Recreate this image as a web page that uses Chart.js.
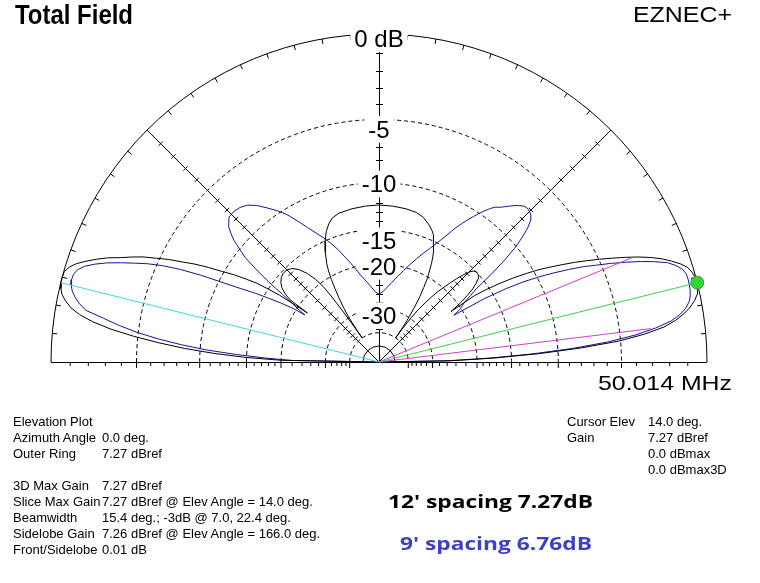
<!DOCTYPE html>
<html>
<head>
<meta charset="utf-8">
<script src="https://cdn.jsdelivr.net/npm/chart.js@4/dist/chart.umd.min.js"></script>
<style>
html,body{margin:0;padding:0;background:#fff;}
#wrap{position:relative;width:760px;height:583px;overflow:hidden;background:#fff;}
#c{position:absolute;left:0;top:0;}
.t{position:absolute;white-space:nowrap;font-family:"Liberation Sans",Arial,sans-serif;color:#000;transform-origin:0 0;line-height:1;}
.info{position:absolute;white-space:nowrap;font-family:"Liberation Sans",Arial,sans-serif;font-size:13px;line-height:16px;color:#000;}
</style>
</head>
<body>
<div id="wrap">
<canvas id="c" width="760" height="583"></canvas>
<div class="t fit" data-w="118" style="left:15px;top:1.5px;font-size:27px;font-weight:bold;">Total Field</div>
<div class="t fit" data-w="99" style="left:633px;top:4px;font-size:22px;">EZNEC+</div>
<div class="t fit" data-w="134" style="left:598px;top:372px;font-size:21px;">50.014 MHz</div>
<div class="info" id="infoL1" style="left:13px;top:413.5px;"></div>
<div class="info" id="infoL2" style="left:102px;top:413.5px;"></div>
<div class="info" id="infoR1" style="left:567px;top:413.5px;"></div>
<div class="info" id="infoR2" style="left:648px;top:413.5px;"></div>
<div class="t fit" data-w="205" style="left:388px;top:491.8px;font-size:18.6px;font-weight:bold;font-family:'Open Sans',sans-serif;">12' spacing 7.27dB</div>
<div class="t fit" data-w="192" style="left:400px;top:534px;font-size:18.6px;font-weight:bold;font-family:'Open Sans',sans-serif;color:#4040c4;">9' spacing 6.76dB</div>
</div>
<script>
// ---------- DATA (elevation angle in degrees, gain in dB relative to outer ring) ----------
const pattern12ft = [
 [0,-99],[1,-25],[2,-17.2],[3,-11.8],[4,-7.9],[5,-5.1],[6,-3.4],[7,-2.2],[8,-1.5],[9,-1.0],
 [10,-0.62],[11,-0.33],[12,-0.14],[13,-0.04],[14,0],[15,-0.03],[16,-0.12],[17,-0.26],[18,-0.55],[19,-0.95],
 [20,-1.4],[21,-1.95],[22,-2.6],[23,-3.35],[24,-4.15],[25,-4.95],[26,-5.8],[27,-6.65],[28,-7.6],[29,-8.55],
 [30,-9.5],[31,-10.7],[32,-12.0],[33,-13.5],[34,-15.3],[34.8,-17.2],[35,-21.8],[36,-19.5],[37,-18],[38,-16.8],
 [39,-16],[40,-15.4],[41,-15.1],[42,-15],[43,-15],[44,-15.2],[45,-15.7],[46,-16.5],[47,-17.5],[48,-18.6],
 [49,-19.8],[50,-21],[51,-22.5],[52,-24.3],[53,-26.5],[54,-29.5],[55,-35],[55.3,-40],[55.6,-34],[56,-31],
 [57,-27],[58,-24],[59,-22],[60,-20.2],[61,-19],[62,-17.8],[63,-16.8],[64,-16],[65,-15.4],[66,-14.8],
 [67,-14.3],[68,-13.9],[70,-13.4],[73,-12.8],[76,-12.5],[80,-12.35],[85,-12.25],[90,-12.2],[95,-12.25],[100,-12.35],
 [105,-12.5],[108,-12.8],[110,-13.3],[112,-14.0],[114,-15.0],[116,-16.3],[118,-17.9],[119,-19.0],[120,-20.5],[121,-22.3],
 [122,-24.3],[123,-26.7],[124,-29.5],[124.7,-35],[125,-40],[125.3,-30],[125.7,-25],[126,-22.8],[126.5,-20.7],[127.5,-19],
 [129,-17.5],[131,-16.3],[133,-15.6],[135,-15.3],[137,-15.25],[139,-15.4],[141,-15.8],[142.5,-16.3],[144,-17.2],[145,-18.3],
 [145.6,-22],[145.8,-19.5],[146.1,-16.7],[146.7,-14.8],[147.2,-13.45],[148,-12.3],[149,-10.9],[150,-9.85],[151,-8.6],[152,-7.5],
 [153,-6.6],[154,-5.6],[155,-4.8],[156,-3.95],[157,-3.3],[158,-2.7],[159,-2.0],[160,-1.45],[161,-0.95],[162,-0.5],
 [163,-0.2],[164,-0.03],[165,0],[166,-0.01],[167,-0.08],[168,-0.2],[169,-0.45],[170,-0.78],[171,-1.3],[172,-2.1],
 [173,-3.2],[174,-4.7],[175,-6.5],[176,-8.6],[177,-11.3],[178,-14.8],[179,-20],[180,-99]
];
const pattern9ft = [
 [0,-99],[1,-26],[2,-18],[3,-12.6],[4,-8.7],[5,-5.9],[6,-4.0],[7,-2.7],[8,-1.75],[9,-1.2],
 [10,-0.85],[11,-0.62],[12,-0.5],[13,-0.44],[14,-0.42],[15,-0.41],[16,-0.43],[17,-0.55],[18,-0.82],[19,-1.2],
 [20,-1.85],[21,-2.6],[22,-3.45],[23,-4.33],[24,-5.3],[25,-6.2],[26,-7.3],[27,-8.5],[28,-9.8],[29,-11.3],
 [30,-13.3],[31,-16.2],[32,-21.7],[33,-20.3],[34,-19.6],[35,-18.9],[36,-17.6],[37,-16.3],[38,-13.8],[39,-11.8],
 [40,-10.2],[41,-9.1],[42,-8.2],[43,-7.6],[44,-7.3],[45,-7.15],[46,-7.1],[47,-7.15],[48,-7.35],[49,-7.6],
 [50,-7.9],[51,-8.2],[52,-8.5],[53,-8.7],[54,-9.05],[55,-9.5],[56,-10.0],[57,-10.55],[58,-11.1],[59,-11.7],
 [60,-12.3],[61,-13.0],[62,-13.75],[63,-14.4],[64,-15.0],[65,-15.6],[66,-16.1],[67,-16.6],[68,-17.1],[70,-18.1],
 [72,-19.1],[75,-20.6],[78,-22.0],[81,-23.3],[84,-24.5],[87,-25.5],[90,-26.1],[93,-25.5],[96,-24.3],[99,-23.0],
 [102,-21.6],[104,-20.4],[106,-19.2],[108,-18.0],[110,-16.7],[112,-15.6],[114,-14.6],[116,-13.7],[118,-12.7],[120,-11.6],
 [122,-10.5],[124,-9.7],[126,-9.0],[128,-8.3],[130,-7.8],[132,-7.55],[134,-7.45],[136,-7.5],[138,-8.0],[139,-8.5],
 [140,-9.1],[141,-10.0],[142,-10.9],[143,-12.5],[144,-14.5],[145,-17.0],[146,-19],[147,-20.5],[147.6,-21.8],[148,-19.5],
 [149,-17.4],[150,-15.6],[151,-13.8],[152,-12.3],[153,-10.5],[154,-8.4],[155,-6.7],[156,-5.4],[157,-4.4],[158,-3.6],
 [159,-2.8],[160,-2.05],[161,-1.45],[162,-0.95],[163,-0.65],[164,-0.52],[165,-0.5],[166,-0.55],[167,-0.68],[168,-0.9],
 [169,-1.2],[170,-1.6],[171,-2.7],[172,-3.7],[173,-4.9],[174,-6.4],[175,-8.3],[176,-10.6],[177,-13.8],[178,-17.5],
 [179,-22],[180,-99]
];
const cursorMark = [14.0, 0.0];          // cursor elevation / dB
const sidelobeMark = [166.0, -0.01];     // sidelobe elevation / dB
const beamwidthMarks = [[7.0, -3], [22.4, -3]];
const ringDb = [0, -5, -10, -15, -20, -30, -40];
const ringLabels = ['0 dB', '-5', '-10', '-15', '-20', '-30'];
const tickDb = [-1,-2,-3,-4,-6,-7,-8,-9,-11,-12,-13,-14,-16,-17,-18,-19,-22,-24,-26,-28,-32,-34,-36,-38];
const spokeAngles = [45, 90, 135];
const infoLeftNames = ['Elevation Plot','Azimuth Angle','Outer Ring','','3D Max Gain','Slice Max Gain','Beamwidth','Sidelobe Gain','Front/Sidelobe'];
const infoLeftValues = ['','0.0 deg.','7.27 dBref','','7.27 dBref','7.27 dBref @ Elev Angle = 14.0 deg.','15.4 deg.; -3dB @ 7.0, 22.4 deg.','7.26 dBref @ Elev Angle = 166.0 deg.','0.01 dB'];
const infoRightNames = ['Cursor Elev','Gain','',''];
const infoRightValues = ['14.0 deg.','7.27 dBref','0.0 dBmax','0.0 dBmax3D'];

// ---------- text blocks ----------
function fillLines(id, arr){ const el=document.getElementById(id); el.innerHTML = arr.map(s => s===''?'&nbsp;':s.replace(/&/g,'&amp;')).join('<br>'); }
fillLines('infoL1', infoLeftNames); fillLines('infoL2', infoLeftValues);
fillLines('infoR1', infoRightNames); fillLines('infoR2', infoRightValues);
document.querySelectorAll('.fit').forEach(el => {
  const w = el.getBoundingClientRect().width; const tw = parseFloat(el.dataset.w);
  if (w > 0) el.style.transform = 'scaleX(' + (tw / w) + ')';
});

// ---------- ARRL-style log radial scale ----------
const K = 0.0604;
function rad(db){ return db <= -60 ? 0 : Math.exp(K * db); }
function toXY(deg, db){ const r = rad(db), a = deg * Math.PI / 180; return {x: r * Math.cos(a), y: r * Math.sin(a)}; }
const originPt = {x: 0, y: 0};

const polarGrid = {
  id: 'polarGrid',
  beforeDatasetsDraw(chart, args, opts){
    const {ctx} = chart; const xs = chart.scales.x, ys = chart.scales.y;
    const cx = xs.getPixelForValue(0), cy = ys.getPixelForValue(0);
    const R = xs.getPixelForValue(1) - cx;
    ctx.save();
    ctx.strokeStyle = '#000'; ctx.lineWidth = 1;
    // outer ring
    ctx.beginPath(); ctx.arc(cx, cy, R, Math.PI, 2 * Math.PI); ctx.stroke();
    // baseline
    ctx.beginPath(); ctx.moveTo(cx - R, cy + 0.5); ctx.lineTo(cx + R, cy + 0.5); ctx.stroke();
    // spokes
    spokeAngles.forEach(a => {
      const t = a * Math.PI / 180;
      const ox = a === 90 ? 0.5 : 0;
      ctx.beginPath(); ctx.moveTo(cx + ox, cy); ctx.lineTo(cx + ox + R * Math.cos(t), cy - R * Math.sin(t)); ctx.stroke();
    });
    // dashed rings
    ctx.setLineDash([4, 3]);
    ringDb.slice(1).forEach(db => { ctx.beginPath(); ctx.arc(cx, cy, rad(db) * R, Math.PI, 2 * Math.PI); ctx.stroke(); });
    ctx.setLineDash([]);
    // innermost small solid ring
    ctx.beginPath(); ctx.arc(cx, cy, rad(-50) * R, Math.PI, 2 * Math.PI); ctx.stroke();
    // outer ring ticks every 5 deg
    for (let a = 5; a < 180; a += 5) {
      if (a % 45 === 0) continue;
      const t = a * Math.PI / 180;
      ctx.beginPath();
      ctx.moveTo(cx + R * Math.cos(t), cy - R * Math.sin(t));
      ctx.lineTo(cx + (R - 5) * Math.cos(t), cy - (R - 5) * Math.sin(t));
      ctx.stroke();
    }
    // ticks on spokes and baseline
    const allTicks = tickDb.concat(ringDb.slice(1));
    allTicks.forEach(db => {
      const r = rad(db) * R;
      const isRing = ringDb.includes(db);
      // baseline ticks (below)
      [-1, 1].forEach(s => {
        ctx.beginPath(); ctx.moveTo(cx + s * r, cy); ctx.lineTo(cx + s * r, cy + (isRing ? 6 : 4)); ctx.stroke();
      });
      if (isRing) return;
      // vertical spoke
      ctx.beginPath(); ctx.moveTo(cx - 3, Math.round(cy - r) + 0.5); ctx.lineTo(cx + 4, Math.round(cy - r) + 0.5); ctx.stroke();
      // diagonal spokes
      [45, 135].forEach(a => {
        const t = a * Math.PI / 180;
        const px = cx + r * Math.cos(t), py = cy - r * Math.sin(t);
        const nx = -Math.sin(t), ny = -Math.cos(t);
        ctx.beginPath(); ctx.moveTo(px - 3 * nx, py - 3 * ny); ctx.lineTo(px + 3 * nx, py + 3 * ny); ctx.stroke();
      });
    });
    // ring labels with white boxes
    const S = 24;
    ctx.font = S + 'px "Liberation Sans", Arial, sans-serif';
    ctx.textAlign = 'center'; ctx.textBaseline = 'alphabetic';
    ringLabels.forEach((lab, i) => {
      const ry = cy - rad(ringDb[i]) * R;
      const base = ry + opts.labelShift[i] + 0.358 * S;
      const w = ctx.measureText(lab).width;
      ctx.fillStyle = '#fff';
      ctx.fillRect(cx - w / 2 - 4, base - 0.905 * S, w + 8, 1.117 * S);
      ctx.fillStyle = '#000';
      ctx.fillText(lab, cx, base);
    });
    ctx.restore();
  }
};

const lineStyle = {showLine: true, pointRadius: 0, borderWidth: 1, fill: false, tension: 0, clip: false};
new Chart(document.getElementById('c'), {
  type: 'scatter',
  data: {
    datasets: [
      {label: 'Cursor', data: [toXY(cursorMark[0], cursorMark[1])], pointRadius: 6.5, pointBackgroundColor: '#2fd82f', pointBorderColor: '#4d8f4d', pointBorderWidth: 1, clip: false, showLine: false},
      Object.assign({label: 'Cursor line', data: [originPt, toXY(cursorMark[0], cursorMark[1])], borderColor: '#3fcf3f'}, lineStyle),
      Object.assign({label: '-3 dB low', data: [originPt, toXY(beamwidthMarks[0][0], beamwidthMarks[0][1])], borderColor: '#cc3fcc'}, lineStyle),
      Object.assign({label: '-3 dB high', data: [originPt, toXY(beamwidthMarks[1][0], beamwidthMarks[1][1])], borderColor: '#cc3fcc'}, lineStyle),
      Object.assign({label: 'Sidelobe', data: [originPt, toXY(sidelobeMark[0], sidelobeMark[1])], borderColor: '#3fd8d8'}, lineStyle),
      Object.assign({label: "12' spacing", data: pattern12ft.map(p => toXY(p[0], p[1])), borderColor: '#000000'}, lineStyle),
      Object.assign({label: "9' spacing", data: pattern9ft.map(p => toXY(p[0], p[1])), borderColor: '#12129a'}, lineStyle)
    ]
  },
  options: {
    responsive: false, animation: false, devicePixelRatio: 1,
    layout: {padding: {left: 51, right: 53, top: 34, bottom: 221}},
    scales: {
      x: {type: 'linear', min: -1, max: 1, display: false},
      y: {type: 'linear', min: 0, max: 1, display: false}
    },
    plugins: {
      legend: {display: false}, tooltip: {enabled: false},
      polarGrid: {labelShift: [4.5, 9.6, 1, 11, 2, 7]}
    }
  },
  plugins: [polarGrid]
});
</script>
</body>
</html>
